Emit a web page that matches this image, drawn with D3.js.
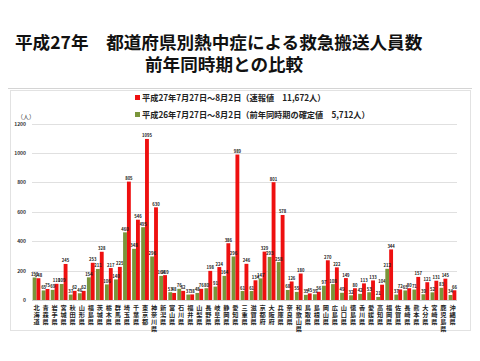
<!DOCTYPE html>
<html><head><meta charset="utf-8">
<script src="https://cdn.jsdelivr.net/npm/d3@7"></script>
<style>body{margin:0;background:#fff;}svg{display:block;}</style>
</head><body><svg id="c" width="480" height="361"></svg>
<script>
const prefectures = ["北海道","青森県","岩手県","宮城県","秋田県","山形県","福島県","茨城県","栃木県","群馬県","埼玉県","千葉県","東京都","神奈川県","新潟県","富山県","石川県","福井県","山梨県","長野県","岐阜県","静岡県","愛知県","三重県","滋賀県","京都府","大阪府","兵庫県","奈良県","和歌山県","鳥取県","島根県","岡山県","広島県","山口県","徳島県","香川県","愛媛県","高知県","福岡県","佐賀県","長崎県","熊本県","大分県","宮崎県","鹿児島県","沖縄県"];
const values2015 = [148,75,110,245,62,62,253,328,217,225,805,546,1095,630,169,48,62,38,76,198,224,386,989,246,134,329,801,578,126,180,45,56,270,222,149,80,113,133,104,344,72,80,157,121,131,145,66];
const values2014 = [153,65,69,109,37,46,154,211,106,140,460,348,495,296,164,53,76,37,48,80,91,164,296,61,61,147,293,258,68,55,35,39,97,108,49,32,42,53,21,212,37,65,71,39,52,83,34];
const yTicks = [0,200,400,600,800,1000,1200];
const seriesNames = ["平成27年7月27日～8月2日（速報値　11,672人）","平成26年7月27日～8月2日（前年同時期の確定値　5,712人）"];
const titleLine1 = "平成27年　都道府県別熱中症による救急搬送人員数";
const titleLine2 = "前年同時期との比較";

const RED = "#EE1010", GREEN = "#7A953A";
const svg = d3.select("#c");
const FONT = "'Noto Sans CJK JP', 'Noto Sans', sans-serif";

// title
svg.append("text").attr("x",15).attr("y",49).attr("font-family",FONT).attr("font-weight","bold")
  .attr("font-size",17.6).attr("fill","#111").text(titleLine1);
svg.append("text").attr("x",145).attr("y",71).attr("font-family",FONT).attr("font-weight","bold")
  .attr("font-size",17.6).attr("fill","#111").text(titleLine2);
svg.append("line").attr("x1",8).attr("x2",472).attr("y1",88.5).attr("y2",88.5).attr("stroke","#d4d4d4").attr("stroke-width",1);

// chart frame
svg.append("rect").attr("x",10.5).attr("y",90.5).attr("width",460).attr("height",240)
  .attr("fill","#fff").attr("stroke","#e2e2e2");

const x = d3.scaleBand().domain(prefectures).range([32,457]).paddingInner(0).paddingOuter(0);
const xs = d3.scaleBand().domain(["g","r"]).range([0,x.bandwidth()]).paddingInner(0).paddingOuter(0.17);
const y = d3.scaleLinear().domain([0,1200]).range([300,123.5]);

// grid
svg.append("g").selectAll("line").data(yTicks.filter(d=>d>0)).join("line")
  .attr("x1",32).attr("x2",457).attr("y1",d=>Math.round(y(d))+0.5).attr("y2",d=>Math.round(y(d))+0.5)
  .attr("stroke","#e0e0e0");
// y axis labels
const yAxis = d3.axisLeft(y).tickValues(yTicks).tickFormat(d3.format("d")).tickSize(0).tickPadding(4);
const ga = svg.append("g").attr("transform","translate(30,0)").call(yAxis);
ga.select(".domain").remove();
ga.selectAll("text").attr("font-family",FONT).attr("font-size",5).attr("font-weight","bold").attr("fill","#333");
svg.append("text").attr("x",17).attr("y",119).attr("font-family",FONT).attr("font-size",6).attr("fill","#333").text("（人）");
svg.append("line").attr("x1",32).attr("x2",457).attr("y1",300.5).attr("y2",300.5).attr("stroke","#d0d0d0");

// bars
const groups = svg.append("g").selectAll("g").data(prefectures).join("g")
  .attr("transform",d=>`translate(${x(d)},0)`);
groups.append("rect").attr("x",xs("g")).attr("width",xs.bandwidth())
  .attr("y",(d,i)=>y(values2014[i])).attr("height",(d,i)=>y(0)-y(values2014[i])).attr("fill",GREEN);
groups.append("rect").attr("x",xs("r")).attr("width",xs.bandwidth())
  .attr("y",(d,i)=>y(values2015[i])).attr("height",(d,i)=>y(0)-y(values2015[i])).attr("fill",RED);
groups.append("text").attr("x",xs("g")+xs.bandwidth()/2).attr("y",(d,i)=>y(values2014[i])-1.5)
  .attr("text-anchor","middle").attr("font-family",FONT).attr("font-size",4.2).attr("font-weight","bold").attr("fill","#222")
  .text((d,i)=>values2014[i]);
groups.append("text").attr("x",xs("r")+xs.bandwidth()/2).attr("y",(d,i)=>y(values2015[i])-1.5)
  .attr("text-anchor","middle").attr("font-family",FONT).attr("font-size",4.2).attr("font-weight","bold").attr("fill","#222")
  .text((d,i)=>values2015[i]);

// category labels (vertical)
groups.each(function(d){
  const g = d3.select(this);
  Array.from(d).forEach((ch,k)=>{
    g.append("text").attr("x",x.bandwidth()/2).attr("y",310+k*7).attr("text-anchor","middle")
      .attr("font-family",FONT).attr("font-size",6.2).attr("font-weight","bold").attr("fill","#222").text(ch);
  });
});

// legend
const leg = svg.append("g");
[[RED,seriesNames[0],98],[GREEN,seriesNames[1],115]].forEach(([c,t,yy])=>{
  leg.append("rect").attr("x",135).attr("y",yy-3).attr("width",5).attr("height",5).attr("fill",c);
  leg.append("text").attr("x",142).attr("y",yy+2.5).attr("font-family",FONT).attr("font-size",8.2)
    .attr("font-weight","bold").attr("fill","#222").text(t);
});
</script></body></html>
